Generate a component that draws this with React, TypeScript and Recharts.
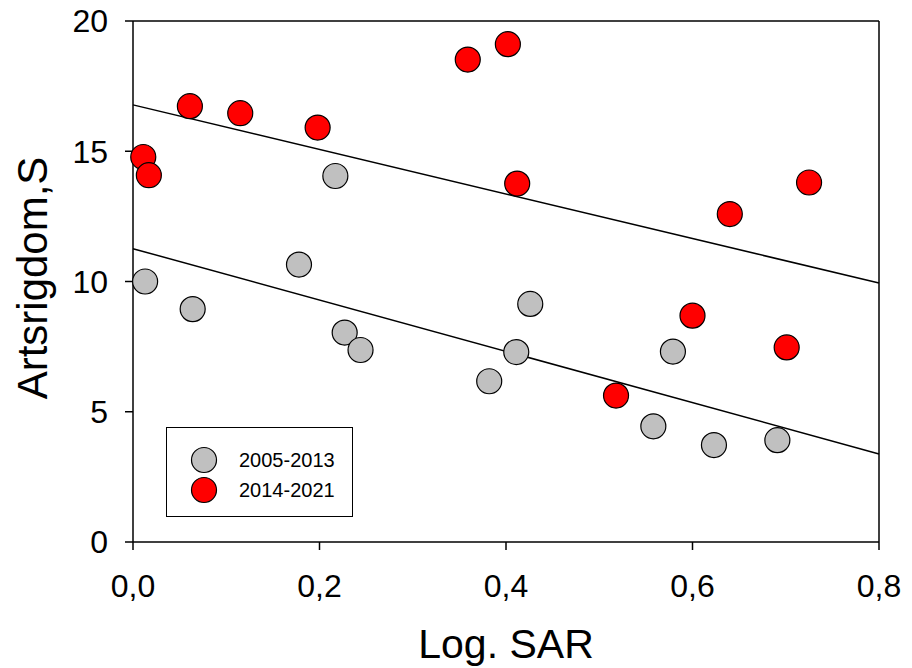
import React from "react";
import {
  ScatterChart,
  Scatter,
  XAxis,
  YAxis,
  ReferenceLine,
  Legend,
  Label,
} from "recharts";

const FONT = "'Liberation Sans', Arial, sans-serif";

// 2005-2013 (gray)
const grayX = [0.013, 0.064, 0.178, 0.217, 0.227, 0.244, 0.382, 0.411, 0.426, 0.558, 0.579, 0.623, 0.691];
const grayY = [10.0, 8.94, 10.65, 14.05, 8.04, 7.37, 6.17, 7.29, 9.14, 4.44, 7.31, 3.72, 3.91];

// 2014-2021 (red)
const redX = [0.011, 0.017, 0.061, 0.115, 0.198, 0.359, 0.402, 0.412, 0.518, 0.6, 0.64, 0.701, 0.725];
const redY = [14.78, 14.08, 16.73, 16.46, 15.91, 18.52, 19.11, 13.76, 5.62, 8.69, 12.59, 7.47, 13.8];

// regression lines, endpoints at x = 0 and x = 0.8
const fitX = [0, 0.8];
const grayFitY = [11.26, 3.38];
const redFitY = [16.78, 9.94];

const xTicks = [0, 0.2, 0.4, 0.6, 0.8];
const yTicks = [0, 5, 10, 15, 20];

const SERIES = [
  { name: "2005-2013", color: "#c0c0c0" },
  { name: "2014-2021", color: "#ff0000" },
];

const toPoints = (xs: number[], ys: number[]) => xs.map((x, i) => ({ x, y: ys[i] }));

const grayData = toPoints(grayX, grayY);
const redData = toPoints(redX, redY);
const grayFit = toPoints(fitX, grayFitY);
const redFit = toPoints(fitX, redFitY);

const dot = (fill: string) => (props: any) => (
  <circle cx={props.cx} cy={props.cy} r={12.5} fill={fill} stroke="#000" strokeWidth={1.2} />
);

const LegendBox = () => (
  <div
    style={{
      boxSizing: "border-box",
      width: 187,
      height: 90,
      border: "1.3px solid #000",
      background: "#fff",
      fontFamily: FONT,
      fontSize: 20,
      paddingTop: 17,
    }}
  >
    {SERIES.map((s) => (
      <div key={s.name} style={{ display: "flex", alignItems: "center", height: 30 }}>
        <svg width={72} height={30} style={{ flex: "none" }}>
          <circle cx={37} cy={15} r={12.5} fill={s.color} stroke="#000" strokeWidth={1.2} />
        </svg>
        <span style={{ color: "#000" }}>{s.name}</span>
      </div>
    ))}
  </div>
);

// rotated y-axis title, centred a little above the plot middle like the original
const YTitle = () => (
  <text
    x={31.7}
    y={278}
    dy="0.355em"
    transform="rotate(-90 31.7 278)"
    textAnchor="middle"
    style={{ fontSize: 42, fontFamily: FONT, fill: "#000" }}
  >
    Artsrigdom,S
  </text>
);

export default function App() {
  return (
    <div style={{ position: "absolute", left: 0, top: 0, background: "#fff" }}>
      <ScatterChart width={912} height={668} margin={{ top: 21, right: 33, left: 0, bottom: 0 }}>
        <XAxis
          type="number"
          dataKey="x"
          domain={[0, 0.8]}
          ticks={xTicks}
          tickFormatter={(v: number) => v.toFixed(1).replace(".", ",")}
          height={126}
          tickSize={8}
          tickMargin={24}
          stroke="#000"
          strokeWidth={1.5}
          tick={{ fill: "#000", fontSize: 32, fontFamily: FONT }}
        >
          <Label
            value="Log. SAR"
            position="insideBottom"
            offset={10}
            style={{ fontSize: 41, fontFamily: FONT, fill: "#000" }}
          />
        </XAxis>
        <YAxis
          type="number"
          dataKey="y"
          domain={[0, 20]}
          ticks={yTicks}
          width={133}
          tickSize={8}
          tickMargin={17}
          stroke="#000"
          strokeWidth={1.5}
          tick={{ fill: "#000", fontSize: 32, fontFamily: FONT }}
        >
          <Label content={() => <YTitle />} />
        </YAxis>
        <ReferenceLine y={20} stroke="#000" strokeWidth={1.5} />
        <ReferenceLine x={0.8} stroke="#000" strokeWidth={1.5} />
        <Scatter
          data={grayFit}
          line={{ stroke: "#000", strokeWidth: 1.5 }}
          shape={() => <g />}
          legendType="none"
          isAnimationActive={false}
        />
        <Scatter
          data={redFit}
          line={{ stroke: "#000", strokeWidth: 1.5 }}
          shape={() => <g />}
          legendType="none"
          isAnimationActive={false}
        />
        <Scatter name="2005-2013" data={grayData} shape={dot("#c0c0c0")} isAnimationActive={false} />
        <Scatter name="2014-2021" data={redData} shape={dot("#ff0000")} isAnimationActive={false} />
        <Legend
          layout="vertical"
          align="center"
          verticalAlign="middle"
          content={() => <LegendBox />}
          wrapperStyle={{ left: 166, top: 427, width: 187, height: 90 }}
        />
      </ScatterChart>
    </div>
  );
}
